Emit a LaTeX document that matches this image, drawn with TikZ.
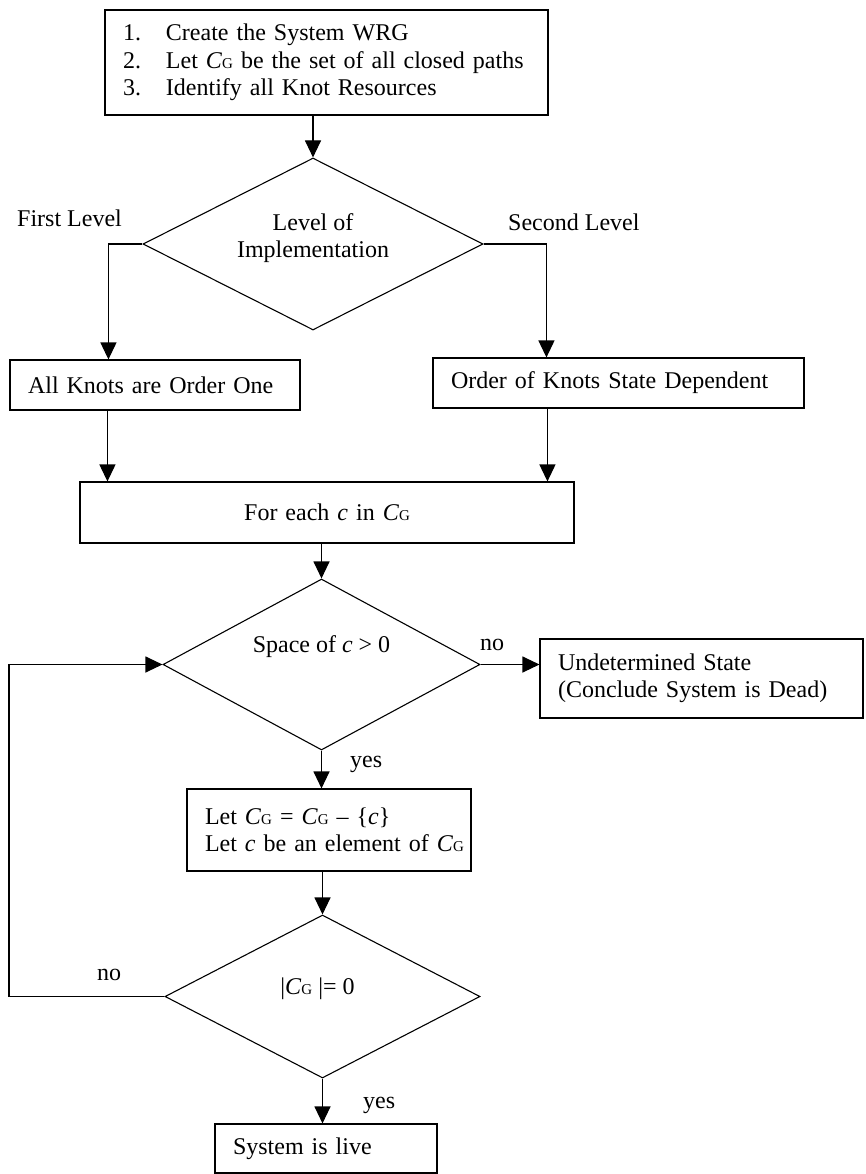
\documentclass[tikz,border=0pt]{standalone}
\usepackage{fontspec}
\setmainfont{Liberation Serif}
\usepackage{tikz}
\usetikzlibrary{shapes,arrows.meta}

\newcommand{\cgset}{\textit{C}{\fontsize{15}{15}\selectfont G}}

\begin{document}
\begin{tikzpicture}[x=1pt,y=-1pt,
    font=\fontsize{24}{27.5}\selectfont,
    box/.style={draw, rectangle, line width=1.1pt, inner xsep=18pt, inner ysep=0pt, align=left},
    decision/.style={draw, diamond, line width=1.1pt, inner sep=0pt},
    arr/.style={line width=1.1pt, -{Triangle[length=17pt,width=16pt]}},
    tag/.style={anchor=base west, inner sep=0pt}]

\useasboundingbox (0,0) rectangle (865,1174);

% Steps
\node [box,
    text width=407pt,
    minimum height=105pt] (init) at (326.5,62.5)
    {\makebox[43pt][l]{1.}Create the System WRG\\
     \makebox[43pt][l]{2.}Let \cgset{} be the set of all closed paths\\
     \makebox[43pt][l]{3.}Identify all Knot Resources};

% Level decision
\node [decision,
    minimum width=340pt,
    minimum height=172pt,
    label={[align=center,yshift=6pt]center:Level of\\Implementation}] (lvl) at (313,244){};

\node [tag] (firstlbl) at (17,227) {First Level};
\node [tag] (secondlbl) at (508,230) {Second Level};

% Knot order
\node [box,
    text width=254pt,
    minimum height=50pt] (first) at (155,385) {All Knots are Order One};
\node [box,
    text width=335pt,
    minimum height=50pt] (second) at (618.5,383) {Order of Knots State Dependent};

% Loop over closed paths
\node [box,
    align=center,
    text width=458pt,
    minimum height=61pt] (foreach) at (327,512.5) {For each \textit{c} in \cgset};

\node [decision,
    minimum width=317pt,
    minimum height=171pt,
    label={[yshift=18pt]center:Space of \textit{c} > 0}] (space) at (321.5,664.5){};

\node [box,
    text width=287pt,
    minimum height=79pt] (undet) at (701.5,678.5)
    {Undetermined State\\(Conclude System is Dead)};

\node [box,
    text width=248pt,
    minimum height=82pt] (remove) at (329,830)
    {\mbox{Let \cgset{} = \cgset{} -- \{\textit{c}\}}\\\mbox{Let \textit{c} be an element of \cgset}};

\node [decision,
    minimum width=315pt,
    minimum height=163pt,
    label={[xshift=-5pt,yshift=8pt]center:|\cgset{} |= 0}] (empty) at (322.5,996.5){};

\node [box,
    text width=186pt,
    minimum height=49pt] (live) at (326,1148.5) {System is live};

\node [tag] (nolbl) at (480,650) {no};
\node [tag] (yeslbl) at (350,767) {yes};
\node [tag] (nolbl2) at (97,980) {no};
\node [tag] (yeslbl2) at (363,1108) {yes};

% Arrows
\coordinate (fdrop) at ([xshift=98pt]first.south west);
\coordinate (sdrop) at ([xshift=115pt]second.south west);
\coordinate (back) at (9,996.5);

\draw [arr] (init.south -| lvl.north) -- (lvl.north);
\draw [arr] (lvl.west) -| ([xshift=99pt]first.north west);
\draw [arr] (lvl.east) -| ([xshift=114pt]second.north west);
\draw [arr] (fdrop) -- (fdrop |- foreach.north);
\draw [arr] (sdrop) -- (sdrop |- foreach.north);
\draw [arr] (space.north |- foreach.south) -- (space.north);
\draw [arr] (space.east) -- (space.east -| undet.west);
\draw [arr] (space.south) -- (space.south |- remove.north);
\draw [arr] (empty.north |- remove.south) -- (empty.north);
\draw [arr] (empty.south) -- (empty.south |- live.north);
\draw [arr] (empty.west) -- (back) |- (space.west);

\end{tikzpicture}
\end{document}
